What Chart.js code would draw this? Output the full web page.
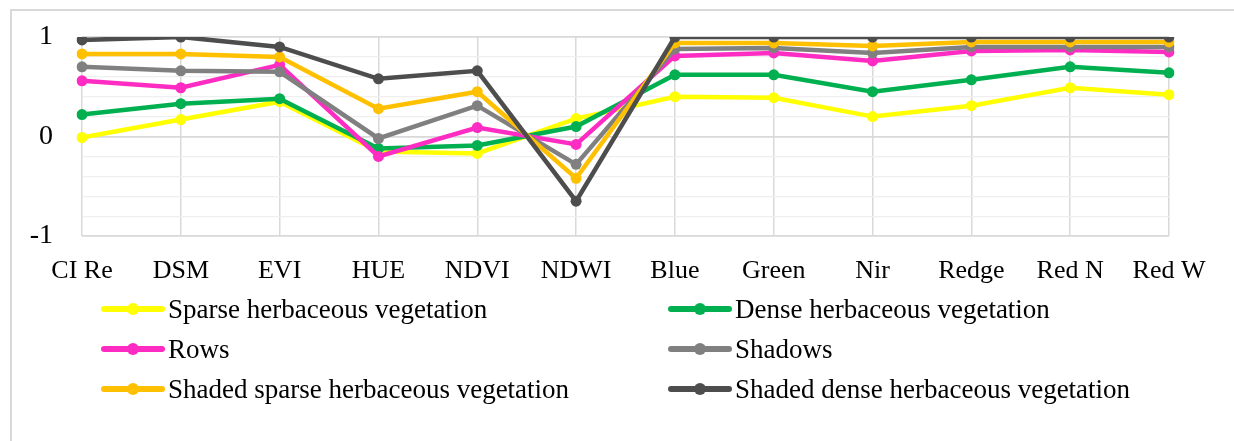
<!DOCTYPE html>
<html>
<head>
<meta charset="utf-8">
<script src="https://cdn.jsdelivr.net/npm/chart.js@4.4.1/dist/chart.umd.min.js"></script>
<style>
    html, body { margin: 0; padding: 0; background: #fff; overflow: hidden; }
    #wrap { position: relative; width: 1234px; height: 441px; overflow: hidden; }
    #frame { position: absolute; left: 10px; top: 9px; width: 1240px; height: 460px; border: 2px solid #d9d9d9; box-sizing: border-box; }
    #chart { position: absolute; left: 0; top: 0; }
    .item { position: absolute; height: 40px; display: flex; align-items: center; font-family: "Liberation Serif", serif; font-size: 27px; color: #000; white-space: nowrap; }
    .mark { position: relative; width: 64px; height: 12px; margin-right: 3px; }
    .mark .ln { position: absolute; left: 0; right: 0; top: 3px; height: 6px; border-radius: 3px; }
    .mark .dot { position: absolute; left: 26px; top: 0; width: 12px; height: 12px; border-radius: 50%; }
</style>
</head>
<body>
<div id="wrap">
    <div id="frame"></div>
    <canvas id="chart" width="1234" height="441"></canvas>
    <div id="legend"></div>
</div>
<script>
const categories = ['CI Re', 'DSM', 'EVI', 'HUE', 'NDVI', 'NDWI', 'Blue', 'Green', 'Nir', 'Redge', 'Red N', 'Red W'];

const sparseHerb = [-0.01, 0.17, 0.35, -0.15, -0.17, 0.18, 0.40, 0.39, 0.20, 0.31, 0.49, 0.42];
const denseHerb = [0.22, 0.33, 0.38, -0.12, -0.09, 0.10, 0.62, 0.62, 0.45, 0.57, 0.70, 0.64];
const rows = [0.56, 0.49, 0.72, -0.20, 0.09, -0.08, 0.81, 0.84, 0.76, 0.86, 0.87, 0.85];
const shadows = [0.70, 0.66, 0.65, -0.02, 0.31, -0.28, 0.88, 0.89, 0.84, 0.90, 0.90, 0.90];
const shadedSparse = [0.83, 0.83, 0.80, 0.28, 0.45, -0.42, 0.94, 0.94, 0.91, 0.95, 0.95, 0.95];
const shadedDense = [0.97, 1.00, 0.90, 0.58, 0.66, -0.65, 1.00, 1.00, 1.00, 1.00, 1.00, 1.00];

const seriesNames = ['Sparse herbaceous vegetation', 'Dense herbaceous vegetation', 'Rows', 'Shadows',
    'Shaded sparse herbaceous vegetation', 'Shaded dense herbaceous vegetation'];
const seriesColors = ['#ffff00', '#00b050', '#ff2cc4', '#808080', '#ffc000', '#4d4d4d'];
const seriesData = [sparseHerb, denseHerb, rows, shadows, shadedSparse, shadedDense];

// gridlines every 0.2, labels only on the whole numbers
const yGrid = [-1, -0.8, -0.6, -0.4, -0.2, 0, 0.2, 0.4, 0.6, 0.8, 1];
const yTickLabels = [-1, 0, 1];

const font = 'Liberation Serif';

const datasets = seriesNames.map((name, i) => ({
    label: name,
    data: seriesData[i],
    borderColor: seriesColors[i],
    backgroundColor: seriesColors[i],
    borderWidth: 4.5,
    pointRadius: 5.5,
    pointBorderWidth: 0,
    pointHoverRadius: 5.5,
    tension: 0,
    order: seriesNames.length - i // later series drawn on top
}));

const isMajor = (v) => yTickLabels.includes(Math.round(v * 100) / 100);

const ctx = document.getElementById('chart').getContext('2d');
const chart = new Chart(ctx, {
    type: 'line',
    data: { labels: categories, datasets: datasets },
    options: {
        responsive: false,
        animation: false,
        layout: { padding: { top: 37, right: 65, left: 0, bottom: 0 } },
        plugins: {
            legend: { display: false },
            tooltip: { enabled: false }
        },
        scales: {
            x: {
                offset: false,
                grid: { color: '#d9d9d9', lineWidth: 1.5, drawTicks: false },
                border: { display: false },
                ticks: { color: '#000', padding: 20, font: { family: font, size: 26 }, maxRotation: 0, autoSkip: false },
                afterFit: (scale) => { scale.height = 441 - 236; }
            },
            y: {
                min: -1,
                max: 1,
                afterBuildTicks: (scale) => { scale.ticks = yGrid.map(v => ({ value: v })); },
                grid: {
                    drawTicks: false,
                    color: (c) => isMajor(c.tick.value) ? '#d9d9d9' : '#efefef',
                    lineWidth: (c) => isMajor(c.tick.value) ? 1.8 : 1.2
                },
                border: { display: false },
                ticks: {
                    autoSkip: false,
                    color: '#000',
                    padding: 29,
                    font: { family: font, size: 28 },
                    callback: (v) => isMajor(v) ? String(Math.round(v)) : ''
                },
                afterFit: (scale) => {
                    scale.width = 82;
                    // label padding is horizontal only here, keep it out of the top/bottom space
                    scale.paddingTop = 0;
                    scale.paddingBottom = 0;
                }
            }
        }
    }
});

// two-column legend like the original
const legendEl = document.getElementById('legend');
const colX = [101, 668];
const rowY = [309, 349, 389];
chart.data.datasets.forEach((ds, i) => {
    const item = document.createElement('div');
    item.className = 'item';
    item.style.left = colX[i % 2] + 'px';
    item.style.top = (rowY[Math.floor(i / 2)] - 20) + 'px';
    item.innerHTML = `<span class="mark"><span class="ln" style="background:${ds.borderColor}"></span>` +
        `<span class="dot" style="background:${ds.borderColor}"></span></span><span>${ds.label}</span>`;
    legendEl.appendChild(item);
});
</script>
</body>
</html>
